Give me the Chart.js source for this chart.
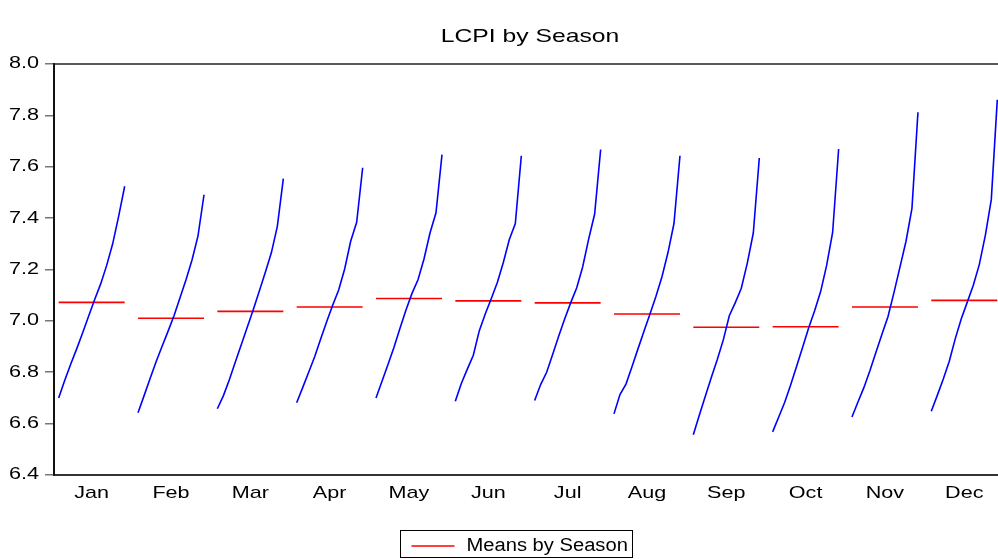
<!DOCTYPE html>
<html>
<head>
<meta charset="utf-8">
<title>LCPI by Season</title>
<script src="https://cdn.jsdelivr.net/npm/chart.js@4.4.1/dist/chart.umd.min.js"></script>
<style>
    html, body { margin: 0; padding: 0; background: #fff; overflow: hidden; }
    #wrap { position: relative; width: 998px; height: 559px; }
</style>
</head>
<body>
<div id="wrap"><canvas id="seasonChart"></canvas></div>
<script>
// ----- data -----
const months = ['Jan', 'Feb', 'Mar', 'Apr', 'May', 'Jun', 'Jul', 'Aug', 'Sep', 'Oct', 'Nov', 'Dec'];

// one value per year, oldest first
const lcpiJan = [6.700, 6.768, 6.831, 6.891, 6.954, 7.019, 7.083, 7.144, 7.216, 7.300, 7.408, 7.524];
const lcpiFeb = [6.642, 6.708, 6.775, 6.840, 6.900, 6.959, 7.020, 7.090, 7.160, 7.237, 7.331, 7.491];
const lcpiMar = [6.658, 6.708, 6.771, 6.840, 6.908, 6.976, 7.044, 7.116, 7.189, 7.265, 7.368, 7.554];
const lcpiApr = [6.681, 6.740, 6.800, 6.860, 6.929, 6.997, 7.061, 7.120, 7.202, 7.310, 7.384, 7.596];
const lcpiMay = [6.700, 6.765, 6.830, 6.897, 6.971, 7.042, 7.107, 7.160, 7.241, 7.342, 7.421, 7.647];
const lcpiJun = [6.687, 6.756, 6.812, 6.866, 6.962, 7.028, 7.087, 7.149, 7.227, 7.317, 7.379, 7.643];
const lcpiJul = [6.690, 6.752, 6.800, 6.869, 6.940, 7.007, 7.070, 7.128, 7.210, 7.318, 7.416, 7.667];
const lcpiAug = [6.638, 6.713, 6.754, 6.821, 6.891, 6.960, 7.027, 7.096, 7.172, 7.266, 7.379, 7.643];
const lcpiSep = [6.557, 6.633, 6.707, 6.780, 6.850, 6.926, 7.020, 7.071, 7.127, 7.225, 7.342, 7.634];
const lcpiOct = [6.568, 6.625, 6.682, 6.750, 6.823, 6.897, 6.972, 7.039, 7.114, 7.216, 7.344, 7.669];
const lcpiNov = [6.626, 6.684, 6.741, 6.807, 6.878, 6.948, 7.016, 7.110, 7.209, 7.309, 7.438, 7.812];
const lcpiDec = [6.648, 6.710, 6.774, 6.843, 6.931, 7.008, 7.073, 7.139, 7.219, 7.332, 7.472, 7.861];

const seasonMeans = [7.072, 7.010, 7.037, 7.054, 7.087, 7.078, 7.070, 7.027, 6.975, 6.977, 7.054, 7.080];

const yMin = 6.4;
const yMax = 8.0;
const yStep = 0.2;

const titleText = 'LCPI by Season';
const legendText = 'Means by Season';

(function() {
    'use strict';

    const byMonth = [lcpiJan, lcpiFeb, lcpiMar, lcpiApr, lcpiMay, lcpiJun,
                     lcpiJul, lcpiAug, lcpiSep, lcpiOct, lcpiNov, lcpiDec];

    // each month occupies one unit on x; the years are spread inside it
    const segStart = 0.059;
    const segSpan = 0.832;

    const linePoints = [];
    const meanPoints = [];
    byMonth.forEach((vals, m) => {
        vals.forEach((v, k) => {
            linePoints.push({ x: m + segStart + k * segSpan / (vals.length - 1), y: v });
        });
        linePoints.push({ x: m + 0.95, y: null });

        meanPoints.push({ x: m + segStart, y: seasonMeans[m] });
        meanPoints.push({ x: m + segStart + segSpan, y: seasonMeans[m] });
        meanPoints.push({ x: m + 0.95, y: null });
    });

    const FONT = "'Liberation Sans', Arial, sans-serif";

    // the original text is a bit wide, so draw it horizontally stretched
    function wideText(ctx, text, x, y, size, sx, align, baseline) {
        ctx.save();
        ctx.translate(x, y);
        ctx.scale(sx, 1);
        ctx.font = size + 'px ' + FONT;
        ctx.fillStyle = '#000';
        ctx.textAlign = align;
        ctx.textBaseline = baseline;
        ctx.fillText(text, 0, 0);
        ctx.restore();
    }

    // title, tick labels, top frame line, boxed legend
    const decorPlugin = {
        id: 'decor',
        afterDraw(chart) {
            const ctx = chart.ctx;
            const area = chart.chartArea;
            const xs = chart.scales.x;
            const ys = chart.scales.y;

            ctx.save();
            ctx.strokeStyle = '#222';
            ctx.lineWidth = 1.5;
            ctx.beginPath();
            ctx.moveTo(area.left, area.top);
            ctx.lineTo(area.right, area.top);
            ctx.stroke();
            ctx.restore();

            wideText(ctx, titleText, xs.getPixelForValue(6), 42, 19, 1.3, 'center', 'alphabetic');

            ys.ticks.forEach(t => {
                wideText(ctx, t.value.toFixed(1), 39, ys.getPixelForValue(t.value), 16, 1.35, 'right', 'middle');
            });
            months.forEach((m, i) => {
                wideText(ctx, m, xs.getPixelForValue(i + 0.5) - 2, 493, 17, 1.27, 'center', 'middle');
            });

            // legend
            ctx.save();
            ctx.font = '18px ' + FONT;
            const tw = ctx.measureText(legendText).width * 1.12;
            const bx = 400.5;
            const by = 530.5;
            ctx.strokeStyle = '#000';
            ctx.lineWidth = 1;
            ctx.strokeRect(bx, by, 232, 27);
            ctx.strokeStyle = '#ff0000';
            ctx.lineWidth = 1.6;
            ctx.beginPath();
            ctx.moveTo(bx + 11, 546);
            ctx.lineTo(bx + 54, 546);
            ctx.stroke();
            ctx.restore();
            wideText(ctx, legendText, bx + 66, 551, 18, 1.12, 'left', 'alphabetic');
        }
    };

    const ctx = document.getElementById('seasonChart').getContext('2d');

    new Chart(ctx, {
        type: 'line',
        data: {
            datasets: [
                {
                    label: 'LCPI',
                    data: linePoints,
                    borderColor: '#0000ff',
                    borderWidth: 1.6,
                    pointRadius: 0,
                    tension: 0,
                    spanGaps: false
                },
                {
                    label: legendText,
                    data: meanPoints,
                    borderColor: '#ff0000',
                    borderWidth: 1.6,
                    pointRadius: 0,
                    tension: 0,
                    spanGaps: false
                }
            ]
        },
        options: {
            responsive: true,
            maintainAspectRatio: false,
            animation: false,
            layout: { padding: { top: 64, right: 0, bottom: 0, left: 0 } },
            plugins: {
                legend: { display: false },
                title: { display: false },
                tooltip: { enabled: false }
            },
            scales: {
                x: {
                    type: 'linear',
                    min: 0,
                    max: 11.9,
                    grid: { display: false, drawTicks: false },
                    border: { display: true, color: '#333', width: 2 },
                    afterBuildTicks: (scale) => {
                        scale.ticks = months.map((m, i) => ({ value: i + 0.5 }));
                    },
                    afterFit: (scale) => { scale.height = 84; },
                    ticks: { display: false }
                },
                y: {
                    min: yMin,
                    max: yMax,
                    grid: {
                        drawOnChartArea: false,
                        drawTicks: true,
                        tickLength: 9,
                        color: '#777',
                        lineWidth: 1.5
                    },
                    border: { display: true, color: '#111', width: 2 },
                    afterFit: (scale) => { scale.width = 54; },
                    ticks: { display: false, stepSize: yStep }
                }
            }
        },
        plugins: [decorPlugin]
    });
})();
</script>
</body>
</html>
